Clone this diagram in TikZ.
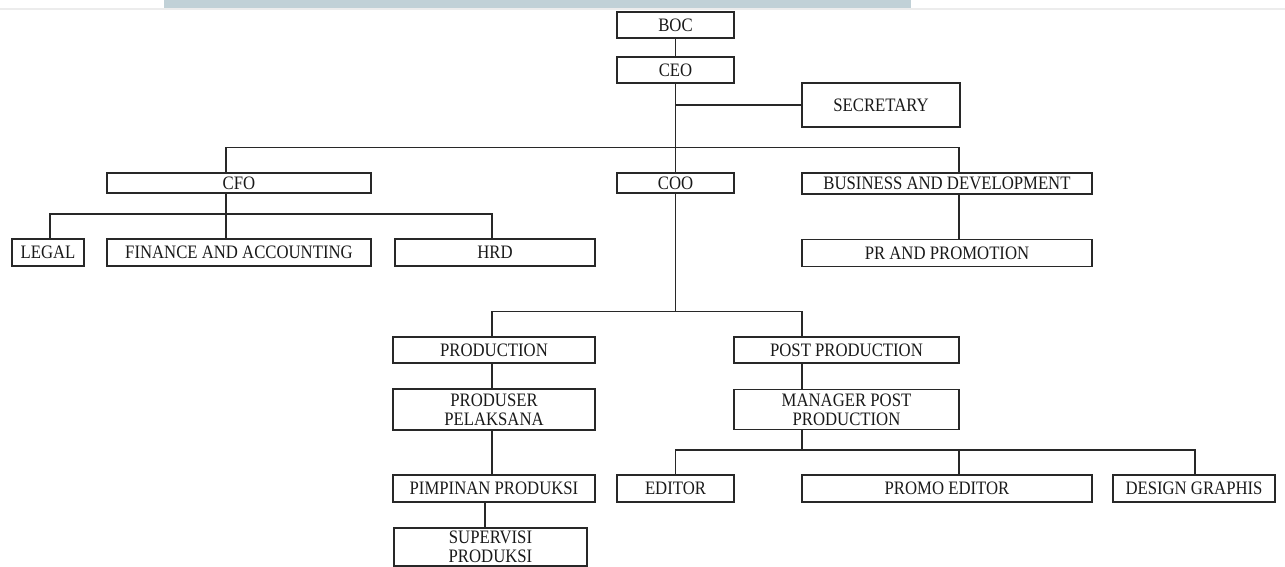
\documentclass[tikz,border=0pt]{standalone}
\usepackage{fontspec}
\setmainfont{Liberation Serif}[FakeStretch=0.88]
\definecolor{linegray}{RGB}{40,40,40}
\definecolor{barblue}{RGB}{193,209,215}
\definecolor{edgegray}{RGB}{236,236,236}

\begin{document}
\begin{tikzpicture}[x=1pt,y=-1pt,
  every node/.style={font=\fontsize{19}{19}\selectfont, text=black!90},
  unit/.style={draw=linegray, line width=1.7pt, inner sep=0pt, align=center},
  link/.style={draw=linegray, line width=1.7pt}]
\useasboundingbox (0,0) rectangle (1285,567);
\fill[barblue] (164,0) rectangle (911,8);
\fill[edgegray] (0,8) rectangle (1285,10);

\node[unit, minimum width=117, minimum height=26] (boc) at (675.5,25) {BOC};
\node[unit, minimum width=117, minimum height=26] (ceo) at (675.5,70) {CEO};
\node[unit, minimum width=158, minimum height=44] (sec) at (881,105) {SECRETARY};
\node[unit, minimum width=264, minimum height=20] (cfo) at (239,183) {CFO};
\node[unit, minimum width=117, minimum height=20] (coo) at (675.5,183) {COO};
\node[unit, minimum width=290, minimum height=21] (bus) at (947,183.5) {BUSINESS AND DEVELOPMENT};
\node[unit, minimum width=72, minimum height=27] (legal) at (48,252.5) {LEGAL};
\node[unit, minimum width=264, minimum height=27] (fin) at (239,252.5) {FINANCE AND ACCOUNTING};
\node[unit, minimum width=200, minimum height=27] (hrd) at (495,252.5) {HRD};
\node[unit, minimum width=290, minimum height=27] (pr) at (947,253) {PR AND PROMOTION};
\node[unit, minimum width=202, minimum height=26] (prod) at (494,350) {PRODUCTION};
\node[unit, minimum width=225, minimum height=26] (post) at (846.5,350) {POST PRODUCTION};
\node[unit, minimum width=202, minimum height=41] (produser) at (494,409.5) {PRODUSER\\PELAKSANA};
\node[unit, minimum width=225, minimum height=40] (manager) at (846.5,409.5) {MANAGER POST\\PRODUCTION};
\node[unit, minimum width=202, minimum height=27] (pimpinan) at (494,488.5) {PIMPINAN PRODUKSI};
\node[unit, minimum width=117, minimum height=27] (editor) at (675.5,488.5) {EDITOR};
\node[unit, minimum width=290, minimum height=27] (promo) at (947,488.5) {PROMO EDITOR};
\node[unit, minimum width=162, minimum height=27] (design) at (1194,488.5) {DESIGN GRAPHIS};
\node[unit, minimum width=193, minimum height=38] (supervisi) at (490.5,547) {SUPERVISI\\PRODUKSI};

\coordinate (secjoin) at (675.5,105);
\coordinate (cfojoin) at (226,147.5);
\coordinate (busjoin) at (959,147.5);
\coordinate (legaljoin) at (50,214);
\coordinate (hrdjoin) at (492,214);
\coordinate (prodjoin) at (492,311.5);
\coordinate (postjoin) at (802,311.5);
\coordinate (supjoin) at (485,515);
\coordinate (desjoin) at (1195,450);
\coordinate (promojoin) at (959,450);

\draw[link] (boc.south) -- (ceo.north);
\draw[link] (ceo.south) -- (coo.north);
\draw[link] (secjoin) -- (secjoin -| sec.west);
\draw[link] (cfo.north -| cfojoin) |- (busjoin) -- (busjoin |- bus.north);
\draw[link] (cfo.south -| cfojoin) -- (fin.north -| cfojoin);
\draw[link] (legal.north -| legaljoin) |- (hrdjoin) -- (hrdjoin |- hrd.north);
\draw[link] (bus.south -| busjoin) -- (pr.north -| busjoin);
\draw[link] (coo.south) -- (coo.south |- prodjoin);
\draw[link] (prod.north -| prodjoin) |- (postjoin) -- (postjoin |- post.north);
\draw[link] (prod.south -| prodjoin) -- (produser.north -| prodjoin);
\draw[link] (produser.south -| prodjoin) -- (pimpinan.north -| prodjoin);
\draw[link] (pimpinan.south -| supjoin) -- (supervisi.north -| supjoin);
\draw[link] (post.south -| postjoin) -- (manager.north -| postjoin);
\draw[link] (manager.south -| postjoin) -- (postjoin |- desjoin);
\draw[link] (editor.north) |- (desjoin) -- (desjoin |- design.north);
\draw[link] (promojoin) -- (promojoin |- promo.north);
\end{tikzpicture}
\end{document}
